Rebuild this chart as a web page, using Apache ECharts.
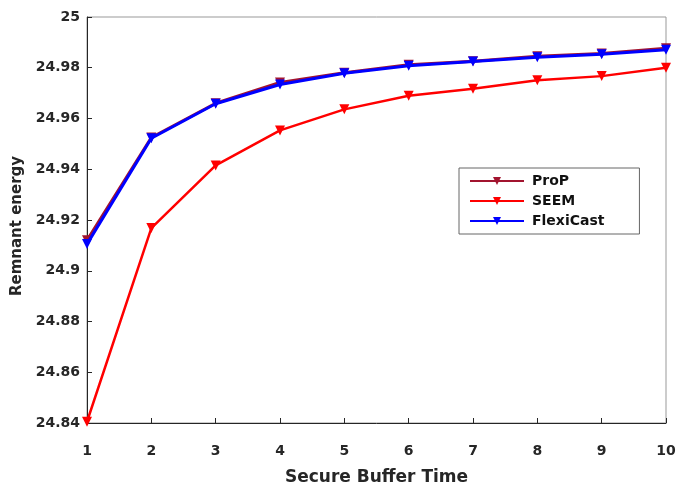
<!DOCTYPE html>
<html><head><meta charset="utf-8">
<script src="https://cdn.jsdelivr.net/npm/echarts@6/dist/echarts.min.js"></script>
<style>html,body{margin:0;padding:0;background:#fff}#c{width:676px;height:483px}</style>
</head><body><div id="c"></div>
<script>
const xs = [1,2,3,4,5,6,7,8,9,10];
const prop = [24.9120,24.9525,24.9660,24.9742,24.9780,24.9812,24.9826,24.9845,24.9856,24.9877];
const seem = [24.8405,24.9168,24.9415,24.9553,24.9636,24.9690,24.9717,24.9751,24.9767,24.9800];
const flexi = [24.9105,24.9522,24.9658,24.9734,24.9778,24.9808,24.9825,24.9841,24.9853,24.9871];
const yTicks = [24.84,24.86,24.88,24.9,24.92,24.94,24.96,24.98,25];

const pair = a => xs.map((x,i)=>[x,a[i]]);
const font = {fontFamily:'DejaVu Sans, sans-serif', fontWeight:'bold', color:'#262626'};
const mk = (name,data,color,w,z) => ({
  name, type:'line', data:pair(data), z,
  symbol:'triangle', symbolRotate:180, symbolSize:10, showSymbol:true,
  lineStyle:{color, width:w}, itemStyle:{color}
});
const chart = echarts.init(document.getElementById('c'));
chart.setOption({
  animation:false,
  grid:{left:87,right:10,top:17,bottom:60,show:true,borderColor:'#999',borderWidth:1,
        backgroundColor:'transparent', outerBoundsMode:'none', containLabel:false},
  legend:{
    orient:'vertical', left:459, top:168, width:184,
    data:['ProP','SEEM','FlexiCast'],
    itemWidth:54, itemHeight:10, itemGap:6,
    padding:[6,35,6,10],
    borderColor:'#666', borderWidth:1, backgroundColor:'#fff',
    textStyle:{...font, fontSize:14, color:'#111', padding:[0,0,0,3]}
  },
  xAxis:{
    type:'value', min:1, max:10, interval:1,
    name:'Secure Buffer Time', nameLocation:'middle', nameGap:46,
    nameTextStyle:{...font, fontSize:17},
    axisLine:{show:true,lineStyle:{color:'#262626'}},
    axisTick:{show:true,inside:true,length:5,lineStyle:{color:'#262626'}},
    axisLabel:{...font, fontSize:14, margin:21},
    splitLine:{show:false}
  },
  yAxis:{
    type:'value', min:24.84, max:25, interval:0.02,
    name:'Remnant energy', nameLocation:'middle', nameGap:56,
    nameTextStyle:{...font, fontSize:15, padding:[0,12,0,0]},
    axisLine:{show:true,lineStyle:{color:'#262626'}},
    axisTick:{show:true,inside:true,length:5,lineStyle:{color:'#262626'}},
    axisLabel:{...font, fontSize:14, margin:7, formatter:v=>String(parseFloat(v.toFixed(2)))},
    splitLine:{show:false}
  },
  series:[
    mk('ProP',prop,'#A2142F',3,2),
    mk('SEEM',seem,'#FF0000',2.5,3),
    mk('FlexiCast',flexi,'#0000FF',3,4)
  ]
});
</script></body></html>
